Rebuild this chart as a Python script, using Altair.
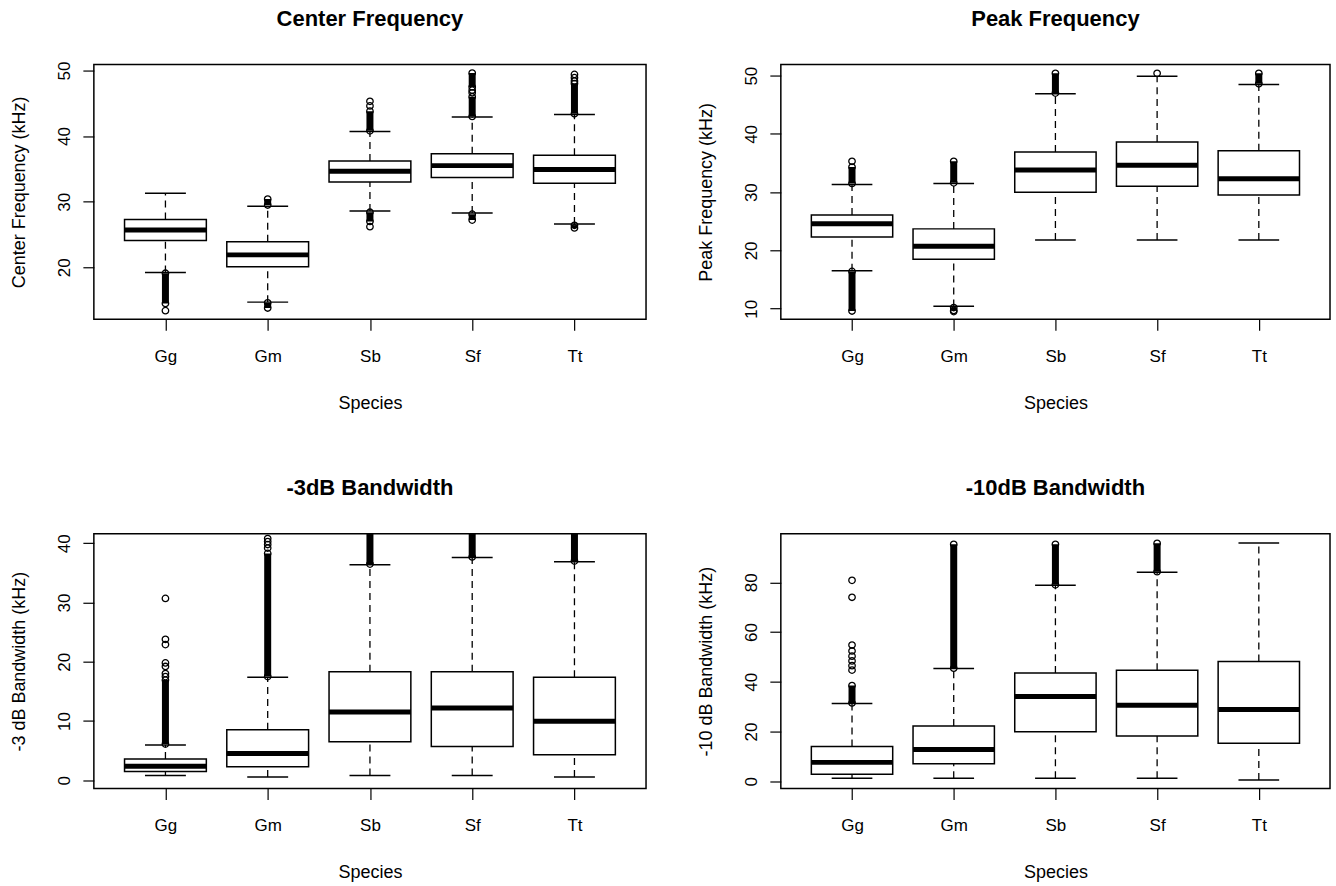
import json
import altair as alt
import pandas as pd

SPECIES = ["Gg", "Gm", "Sb", "Sf", "Tt"]

# ---- Center Frequency ----
cf_q1 = [24.1, 20.1, 33.0, 33.7, 32.8]
cf_med = [25.7, 21.9, 34.65, 35.5, 34.9]
cf_q3 = [27.3, 23.9, 36.2, 37.3, 37.1]
cf_wlo = [19.2, 14.7, 28.6, 28.3, 26.6]
cf_whi = [31.3, 29.3, 40.7, 42.9, 43.3]
cf_dense_sp = ["Gg", "Gm", "Gm", "Sb", "Sb", "Sf", "Sf", "Sf", "Tt", "Tt"]
cf_dense_lo = [14.5, 29.5, 13.8, 40.8, 27.0, 43.0, 47.5, 27.2, 43.4, 26.0]
cf_dense_hi = [19.1, 30.4, 14.6, 43.8, 28.4, 46.0, 49.6, 28.1, 48.0, 26.4]
cf_out_sp = ["Gg", "Sb", "Sb", "Sb", "Sf", "Sf", "Tt", "Tt", "Tt"]
cf_out_val = [13.4, 44.6, 45.3, 26.2, 46.6, 47.0, 48.4, 48.9, 49.4]

# ---- Peak Frequency ----
pf_q1 = [22.3, 18.5, 30.0, 31.0, 29.5]
pf_med = [24.6, 20.7, 33.8, 34.6, 32.3]
pf_q3 = [26.1, 23.7, 36.9, 38.6, 37.1]
pf_wlo = [16.5, 10.4, 21.8, 21.8, 21.8]
pf_whi = [31.3, 31.5, 46.9, 49.9, 48.5]
pf_dense_sp = ["Gg", "Gg", "Gm", "Gm", "Sb", "Tt"]
pf_dense_lo = [31.5, 9.6, 31.6, 9.7, 47.0, 48.6]
pf_dense_hi = [34.3, 16.4, 35.3, 10.2, 50.4, 50.4]
pf_out_sp = ["Gg", "Sf", "Gm"]
pf_out_val = [35.3, 50.4, 9.5]

# ---- -3dB Bandwidth ----
b3_q1 = [1.46, 2.25, 6.5, 5.7, 4.3]
b3_med = [2.35, 4.5, 11.5, 12.2, 9.95]
b3_q3 = [3.6, 8.5, 18.3, 18.3, 17.4]
b3_wlo = [0.8, 0.56, 0.8, 0.8, 0.56]
b3_whi = [5.95, 17.4, 36.4, 37.6, 36.9]
b3_dense_sp = ["Gg", "Gm", "Sb", "Sf", "Tt"]
b3_dense_lo = [6.1, 17.5, 36.5, 37.7, 37.0]
b3_dense_hi = [16.9, 38.3, 42.0, 42.0, 42.0]
b3_out_sp = ["Gg", "Gg", "Gg", "Gg", "Gg", "Gg", "Gg", "Gm", "Gm", "Gm", "Gm"]
b3_out_val = [17.5, 18.0, 19.2, 19.8, 22.9, 23.8, 30.7, 39.2, 39.8, 40.3, 40.8]

# ---- -10dB Bandwidth ----
b10_q1 = [2.8, 7.0, 19.9, 18.2, 15.3]
b10_med = [7.6, 12.8, 34.1, 30.6, 28.9]
b10_q3 = [14.0, 22.2, 43.5, 44.7, 48.2]
b10_wlo = [1.2, 1.2, 1.2, 1.2, 0.5]
b10_whi = [31.3, 45.4, 78.8, 84.1, 95.8]
b10_dense_sp = ["Gg", "Gm", "Sb", "Sf"]
b10_dense_lo = [31.5, 45.5, 79.0, 84.3]
b10_dense_hi = [38.5, 95.3, 95.3, 95.7]
b10_out_sp = ["Gg", "Gg", "Gg", "Gg", "Gg", "Gg", "Gg", "Gg"]
b10_out_val = [44.7, 46.5, 48.4, 50.3, 52.4, 54.8, 74.0, 80.8]

FONT = "Liberation Sans"
POS = {s: i + 1 for i, s in enumerate(SPECIES)}
LABEL_EXPR = json.dumps(SPECIES) + "[datum.value - 1]"


def panel(title, ytitle, dom, ticks, q1, med, q3, wlo, whi,
          d_sp, d_lo, d_hi, o_sp, o_val, width, title_dy=0):
    stats = pd.DataFrame({"species": SPECIES, "pos": [POS[s] for s in SPECIES],
                          "q1": q1, "med": med, "q3": q3, "wlo": wlo, "whi": whi})
    dense = pd.DataFrame({"pos": [POS[s] for s in d_sp], "lo": d_lo, "hi": d_hi})
    pts = pd.DataFrame({
        "pos": [POS[s] for s in o_sp] + [POS[s] for s in d_sp] + [POS[s] for s in d_sp],
        "val": list(o_val) + list(d_lo) + list(d_hi),
    })

    xscale = alt.Scale(domain=[0.3, 5.7], nice=False, zero=False)
    xaxis = alt.Axis(values=[1, 2, 3, 4, 5], labelExpr=LABEL_EXPR, title="Species",
                     labelAngle=0, labelPadding=18, titlePadding=30,
                     labelBaseline="top")
    yscale = alt.Scale(domain=dom, nice=False, zero=False)
    yaxis = alt.Axis(values=ticks, title=ytitle, labelAngle=270, labelAlign="center",
                     labelBaseline="bottom", labelPadding=9, titlePadding=27)

    def X(f):
        return alt.X(f, type="quantitative", scale=xscale, axis=xaxis)

    def Y(f):
        return alt.Y(f, type="quantitative", scale=yscale, axis=yaxis)

    base = alt.Chart(stats).transform_calculate(
        xl="datum.pos - 0.4", xr="datum.pos + 0.4",
        cl="datum.pos - 0.2", cr="datum.pos + 0.2")

    wh_hi = base.mark_rule(color="black", strokeWidth=1.3, strokeDash=[7, 5]).encode(
        x=X("pos"), y=Y("q3"), y2="whi")
    wh_lo = base.mark_rule(color="black", strokeWidth=1.3, strokeDash=[7, 5]).encode(
        x=X("pos"), y=Y("wlo"), y2="q1")
    cap_hi = base.mark_rule(color="black", strokeWidth=1.5).encode(
        x=X("cl"), x2="cr", y=Y("whi"))
    cap_lo = base.mark_rule(color="black", strokeWidth=1.5).encode(
        x=X("cl"), x2="cr", y=Y("wlo"))
    box = base.mark_rect(fill="white", stroke="black", strokeWidth=1.5).encode(
        x=X("xl"), x2="xr", y=Y("q1"), y2="q3")
    median = base.mark_rule(color="black", strokeWidth=5).encode(
        x=X("xl"), x2="xr", y=Y("med"))
    bands = alt.Chart(dense).mark_rule(color="black", strokeWidth=7, clip=True).encode(
        x=X("pos"), y=Y("lo"), y2="hi")
    points = alt.Chart(pts).mark_point(shape="circle", filled=False, color="black",
                                       size=42, strokeWidth=1.3, opacity=1,
                                       clip=True).encode(
        x=X("pos"), y=Y("val"))

    return alt.layer(wh_hi, wh_lo, cap_hi, cap_lo, box, median, bands, points).properties(
        width=width, height=255,
        title=alt.TitleParams(title, font=FONT, fontSize=22, fontWeight="bold",
                              color="black", anchor="middle", frame="group",
                              offset=34, dy=title_dy),
    )


p1 = panel("Center Frequency", "Center Frequency (kHz)", [12.1, 50.9], [20, 30, 40, 50],
           cf_q1, cf_med, cf_q3, cf_wlo, cf_whi,
           cf_dense_sp, cf_dense_lo, cf_dense_hi, cf_out_sp, cf_out_val, 553, title_dy=4)
p2 = panel("Peak Frequency", "Peak Frequency (kHz)", [8.2, 51.9], [10, 20, 30, 40, 50],
           pf_q1, pf_med, pf_q3, pf_wlo, pf_whi,
           pf_dense_sp, pf_dense_lo, pf_dense_hi, pf_out_sp, pf_out_val, 550)
p3 = panel("-3dB Bandwidth", "-3 dB Bandwidth (kHz)", [-1.4, 41.6], [0, 10, 20, 30, 40],
           b3_q1, b3_med, b3_q3, b3_wlo, b3_whi,
           b3_dense_sp, b3_dense_lo, b3_dense_hi, b3_out_sp, b3_out_val, 553)
p4 = panel("-10dB Bandwidth", "-10 dB Bandwidth (kHz)", [-2.9, 99.5], [0, 20, 40, 60, 80],
           b10_q1, b10_med, b10_q3, b10_wlo, b10_whi,
           b10_dense_sp, b10_dense_lo, b10_dense_hi, b10_out_sp, b10_out_val, 550)

chart = alt.concat(
    p1, p2, p3, p4, columns=2,
    spacing=alt.RowColnumber(row=215, column=135),
    bounds="flush",
).configure(
    background="white",
    padding={"left": 10, "top": 6, "right": 5, "bottom": 5},
).configure_view(
    stroke="black", strokeWidth=1.5
).configure_axis(
    domain=False, grid=False, ticks=True, tickColor="black", tickSize=11, tickWidth=1.2,
    labelFont=FONT, labelFontSize=17, labelColor="black",
    titleFont=FONT, titleFontSize=18, titleFontWeight="normal", titleColor="black",
)

chart.save("out.html", embed_options={"renderer": "svg", "actions": False})
